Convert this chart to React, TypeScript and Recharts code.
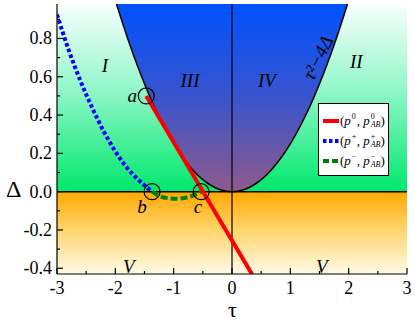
import React from "react";
import {
  ComposedChart,
  XAxis,
  YAxis,
  Line,
  Area,
  Scatter,
  ReferenceArea,
  ReferenceLine,
} from "recharts";

// axis ranges and ticks
const tauDomain = [-3, 3];
const deltaDomain = [-0.43, 0.98];
const tauTicks = [-3, -2.5, -2, -1.5, -1, -0.5, 0, 0.5, 1, 1.5, 2, 2.5, 3];
const deltaTicks = [-0.4, -0.3, -0.2, -0.1, 0, 0.1, 0.2, 0.3, 0.4, 0.5, 0.6, 0.7, 0.8, 0.9];

// boundary tau^2 - 4 Delta = 0
const boundaryTau = [-1.98, -1.8, -1.6, -1.4, -1.2, -1.0, -0.8, -0.6, -0.4, -0.2, 0, 0.2, 0.4, 0.6, 0.8, 1.0, 1.2, 1.4, 1.6, 1.8, 1.98];
const boundaryDelta = [0.98, 0.81, 0.64, 0.49, 0.36, 0.25, 0.16, 0.09, 0.04, 0.01, 0, 0.01, 0.04, 0.09, 0.16, 0.25, 0.36, 0.49, 0.64, 0.81, 0.98];

// (p0, p0_AB)
const pZeroTau = [-1.47, 0.36];
const pZeroDelta = [0.5, -0.44];

// (p+, p+_AB)
const pPlusTau = [-3.0, -2.8, -2.6, -2.4, -2.2, -2.0, -1.8, -1.6, -1.45, -1.37];
const pPlusDelta = [0.925, 0.74, 0.58, 0.44, 0.315, 0.21, 0.125, 0.06, 0.02, 0.0];

// (p-, p-_AB)
const pMinusTau = [-1.37, -1.25, -1.1, -0.95, -0.8, -0.65, -0.53];
const pMinusDelta = [0, -0.022, -0.034, -0.037, -0.032, -0.018, 0];

// marked points
const pointNames = ["a", "b", "c"];
const pointTau = [-1.47, -1.37, -0.53];
const pointDelta = [0.5, 0, 0];

// region labels
const regionNames = ["I", "II", "III", "IV", "V", "V", "τ²−4Δ"];
const regionTau = [-2.18, 2.13, -0.72, 0.6, -1.77, 1.54, 1.47];
const regionDelta = [0.66, 0.68, 0.58, 0.58, -0.39, -0.39, 0.7];

const zip = (ts: number[], ds: number[]) => ts.map((t, i) => ({ t, d: ds[i] }));

const boundaryData = boundaryTau.map((t, i) => ({ t, d: boundaryDelta[i], r: [boundaryDelta[i], deltaDomain[1]] }));
const pZeroData = zip(pZeroTau, pZeroDelta);
const pPlusData = zip(pPlusTau, pPlusDelta);
const pMinusData = zip(pMinusTau, pMinusDelta);
const pointData = pointTau.map((t, i) => ({ t, d: pointDelta[i], name: pointNames[i] }));
const regionData = regionTau.map((t, i) => ({ t, d: regionDelta[i], name: regionNames[i] }));

const serif = "'Liberation Serif', 'Times New Roman', serif";

const isMajorX = (v: number) => Math.abs(v - Math.round(v)) < 1e-6;
const isMajorY = (v: number) => Math.round(v * 10) % 2 === 0;

function BottomTick({ x, y, payload }: any) {
  const major = isMajorX(payload.value);
  return (
    <g>
      <line x1={x} x2={x} y1={y} y2={y - (major ? 6 : 3)} stroke="#000" strokeWidth={1.2} />
      {major && (
        <text x={x} y={y + 20} textAnchor="middle" fontFamily={serif} fontSize={18} fill="#000">
          {payload.value}
        </text>
      )}
    </g>
  );
}

function TopTick({ x, y, payload }: any) {
  const major = isMajorX(payload.value);
  return <line x1={x} x2={x} y1={y} y2={y + (major ? 6 : 3)} stroke="#000" strokeWidth={1.2} />;
}

function LeftTick({ x, y, payload }: any) {
  const major = isMajorY(payload.value);
  return (
    <g>
      <line x1={x} x2={x + (major ? 6 : 3)} y1={y} y2={y} stroke="#000" strokeWidth={1.2} />
      {major && (
        <text x={x - 5} y={y + 6} textAnchor="end" fontFamily={serif} fontSize={18} fill="#000">
          {payload.value.toFixed(1)}
        </text>
      )}
    </g>
  );
}

function RightTick({ x, y, payload }: any) {
  const major = isMajorY(payload.value);
  return <line x1={x} x2={x - (major ? 6 : 3)} y1={y} y2={y} stroke="#000" strokeWidth={1.2} />;
}

const pointLabelOffset: Record<string, [number, number]> = {
  a: [-14, 6],
  b: [-10, 21],
  c: [-3, 21],
};

function PointMarker({ cx, cy, payload }: any) {
  const [dx, dy] = pointLabelOffset[payload.name];
  return (
    <g>
      <circle cx={cx} cy={cy} r={8} fill="none" stroke="#000" strokeWidth={1.2} />
      <text x={cx + dx} y={cy + dy} textAnchor="middle" fontFamily={serif} fontStyle="italic" fontSize={19} fill="#000">
        {payload.name}
      </text>
    </g>
  );
}

function RegionLabel({ cx, cy, payload }: any) {
  if (payload.name.length > 3) {
    return (
      <text
        x={cx}
        y={cy}
        textAnchor="middle"
        dominantBaseline="central"
        fontFamily={serif}
        fontStyle="italic"
        fontSize={19}
        fill="#000"
        transform={`rotate(-64 ${cx} ${cy})`}
      >
        {payload.name}
      </text>
    );
  }
  return (
    <text x={cx} y={cy} textAnchor="middle" dominantBaseline="central" fontFamily={serif} fontStyle="italic" fontSize={19} fill="#000">
      {payload.name}
    </text>
  );
}

const legendItems = [
  { sup: "0", color: "#ff0000", kind: "solid" },
  { sup: "+", color: "#0000ff", kind: "dot" },
  { sup: "−", color: "#008000", kind: "dash" },
];

function Sample({ color, kind }: { color: string; kind: string }) {
  const dash = kind === "dot" ? "3.5 2.5" : kind === "dash" ? "6 3" : undefined;
  return (
    <svg width={16} height={6} style={{ display: "block" }}>
      <line x1={0} x2={16} y1={3} y2={3} stroke={color} strokeWidth={4} strokeDasharray={dash} />
    </svg>
  );
}

function Script({ sup, sub }: { sup: string; sub?: string }) {
  return (
    <span style={{ display: "inline-flex", flexDirection: "column", fontSize: 8, lineHeight: "8px", verticalAlign: "middle", marginLeft: 1 }}>
      <span>{sup}</span>
      <span style={{ fontStyle: "italic", visibility: sub ? "visible" : "hidden" }}>{sub || "A"}</span>
    </span>
  );
}

function Legend() {
  return (
    <div
      style={{
        position: "absolute",
        left: 318,
        top: 103,
        width: 71,
        height: 73,
        border: "1px solid #000",
        background: "#fff",
        boxSizing: "border-box",
        paddingTop: 7,
        fontFamily: serif,
        fontSize: 13,
      }}
    >
      {legendItems.map((it) => (
        <div key={it.sup} style={{ display: "flex", alignItems: "center", height: 20, paddingLeft: 4 }}>
          <Sample color={it.color} kind={it.kind} />
          <span style={{ marginLeft: 1, whiteSpace: "nowrap", display: "inline-flex", alignItems: "center" }}>
            (<i>p</i>
            <Script sup={it.sup} />,&nbsp;<i>p</i>
            <Script sup={it.sup} sub="AB" />)
          </span>
        </div>
      ))}
    </div>
  );
}

export default function App() {
  return (
    <div style={{ position: "absolute", left: 0, top: 0, width: 415, height: 321, background: "#fff" }}>
      <svg width={0} height={0} style={{ position: "absolute" }}>
        <defs>
          <linearGradient id="gUpper" x1="0" y1="0" x2="0" y2="1">
            <stop offset="0" stopColor="#f8fffd" />
            <stop offset="0.45" stopColor="#93f7cb" />
            <stop offset="1" stopColor="#00e86c" />
          </linearGradient>
          <linearGradient id="gLower" x1="0" y1="0" x2="0" y2="1">
            <stop offset="0" stopColor="#ffa800" />
            <stop offset="0.5" stopColor="#ffd874" />
            <stop offset="1" stopColor="#fffbe8" />
          </linearGradient>
          <linearGradient id="gInner" x1="0" y1="0" x2="0" y2="1">
            <stop offset="0" stopColor="#0052ff" />
            <stop offset="0.5" stopColor="#3a54cc" />
            <stop offset="1" stopColor="#8e5a8a" />
          </linearGradient>
        </defs>
      </svg>
      <ComposedChart width={415} height={321} margin={{ top: 4, right: 8, bottom: 0, left: 0 }}>
        <ReferenceArea x1={tauDomain[0]} x2={tauDomain[1]} y1={0} y2={deltaDomain[1]} fill="url(#gUpper)" fillOpacity={1} stroke="none" />
        <ReferenceArea x1={tauDomain[0]} x2={tauDomain[1]} y1={deltaDomain[0]} y2={0} fill="url(#gLower)" fillOpacity={1} stroke="none" />
        <Area
          data={boundaryData}
          dataKey="r"
          type="monotone"
          fill="url(#gInner)"
          fillOpacity={1}
          stroke="none"
          isAnimationActive={false}
        />
        <Line data={boundaryData} dataKey="d" type="monotone" stroke="#000" strokeWidth={1.5} dot={false} isAnimationActive={false} />
        <ReferenceLine y={0} stroke="#000" strokeWidth={1.5} />
        <ReferenceLine x={0} stroke="#000" strokeWidth={1.2} />
        <Line data={pPlusData} dataKey="d" type="monotone" stroke="#0000ff" strokeWidth={4} strokeDasharray="3.5 2.5" dot={false} isAnimationActive={false} />
        <Line data={pMinusData} dataKey="d" type="monotone" stroke="#008000" strokeWidth={4} strokeDasharray="7 3" dot={false} isAnimationActive={false} />
        <Line data={pZeroData} dataKey="d" type="linear" stroke="#ff0000" strokeWidth={4} dot={false} isAnimationActive={false} />
        <Scatter data={pointData} dataKey="d" shape={<PointMarker />} isAnimationActive={false} />
        <Scatter data={regionData} dataKey="d" shape={<RegionLabel />} isAnimationActive={false} />
        <XAxis
          xAxisId={0}
          type="number"
          dataKey="t"
          domain={tauDomain}
          allowDataOverflow
          ticks={tauTicks}
          interval={0}
          height={47}
          tickSize={0}
          tickMargin={0}
          tickLine={false}
          axisLine={{ stroke: "#000", strokeWidth: 1.2 }}
          tick={<BottomTick />}
        />
        <XAxis
          xAxisId="top"
          orientation="top"
          type="number"
          dataKey="t"
          domain={tauDomain}
          allowDataOverflow
          ticks={tauTicks}
          interval={0}
          height={0}
          tickSize={0}
          tickMargin={0}
          tickLine={false}
          axisLine={{ stroke: "#000", strokeWidth: 1.2 }}
          tick={<TopTick />}
        />
        <YAxis
          yAxisId={0}
          type="number"
          domain={deltaDomain}
          allowDataOverflow
          ticks={deltaTicks}
          interval={0}
          width={57}
          tickSize={0}
          tickMargin={0}
          tickLine={false}
          axisLine={{ stroke: "#000", strokeWidth: 1.2 }}
          tick={<LeftTick />}
        />
        <YAxis
          yAxisId="right"
          orientation="right"
          type="number"
          domain={deltaDomain}
          allowDataOverflow
          ticks={deltaTicks}
          interval={0}
          width={0}
          tickSize={0}
          tickMargin={0}
          tickLine={false}
          axisLine={{ stroke: "#000", strokeWidth: 1.2 }}
          tick={<RightTick />}
        />
      </ComposedChart>
      <div style={{ position: "absolute", left: 6, top: 176, fontFamily: serif, fontSize: 24, lineHeight: "26px" }}>Δ</div>
      <div style={{ position: "absolute", left: 228, top: 300, fontFamily: serif, fontSize: 22, lineHeight: "20px" }}>τ</div>
      <Legend />
    </div>
  );
}
